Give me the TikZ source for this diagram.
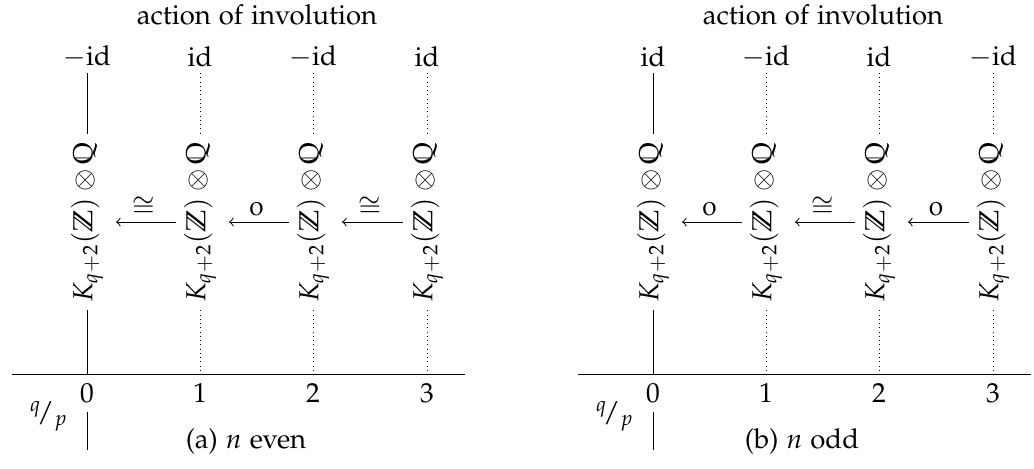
\documentclass[tikz,border=0pt]{standalone}
\usepackage[T1]{fontenc}
\usepackage[osf]{mathpazo}
\usepackage{amssymb}
\newcommand{\KZQ}{$K_{q+2}(\mathbb{Z})\otimes\mathbb{Q}$}
\tikzset{
  every node/.style={font=\fontsize{11}{13}\selectfont},
  ttl/.style={inner sep=1pt},
  hdr/.style={inner sep=1pt},
  col/.style={rotate=90,inner sep=3pt},
  tick/.style={inner sep=1pt},
  dots/.style={dash pattern=on 0.4pt off 1.3pt},
  map/.style={->,shorten <=0pt,shorten >=2pt},
  lab/.style={above,inner sep=2pt}
}
\newcommand{\Panel}[9]{%
\begin{scope}[shift={(#2,0)}]
  \node[ttl] (#1t) at (257,15) {action of involution};
  \node[hdr] (#1h0) at (87,57) {#3};
  \node[hdr] (#1h1) at (200,57) {#4};
  \node[hdr] (#1h2) at (313,57) {#5};
  \node[hdr] (#1h3) at (427,57) {#6};
  \node[col] (#1k0) at (87,222) {\KZQ};
  \node[col] (#1k1) at (200,222) {\KZQ};
  \node[col] (#1k2) at (313,222) {\KZQ};
  \node[col] (#1k3) at (427,222) {\KZQ};
  \node[tick] (#1n0) at (87,393) {$0$};
  \node[tick] (#1n1) at (200,393) {$1$};
  \node[tick] (#1n2) at (313,393) {$2$};
  \node[tick] (#1n3) at (427,393) {$3$};
  \node[inner sep=0pt] (#1qp) at (49,416) {${}^{q}\!/_{p}$};
  \coordinate (#1L) at (12,374);
  \coordinate (#1R) at (465,374);
  \coordinate (#1t0) at (87,73);
  \coordinate (#1t1) at (200,73);
  \coordinate (#1t2) at (313,73);
  \coordinate (#1t3) at (427,73);
  \coordinate (#1b0) at (87,374);
  \coordinate (#1b1) at (200,374);
  \coordinate (#1b2) at (313,374);
  \coordinate (#1b3) at (427,374);
  \coordinate (#1u0) at (87,412);
  \coordinate (#1e0) at (87,450);
  \draw (#1L) -- (#1R);
  \draw (#1t0) -- (#1k0.east);
  \draw (#1k0.west) -- (#1b0);
  \draw (#1u0) -- (#1e0);
  \draw[dots] (#1t1) -- (#1k1.east);
  \draw[dots] (#1k1.west) -- (#1b1);
  \draw[dots] (#1t2) -- (#1k2.east);
  \draw[dots] (#1k2.west) -- (#1b2);
  \draw[dots] (#1t3) -- (#1k3.east);
  \draw[dots] (#1k3.west) -- (#1b3);
  \draw[map] (#1k1) -- node[lab]{#7} (#1k0);
  \draw[map] (#1k2) -- node[lab]{#8} (#1k1);
  \draw[map] (#1k3) -- node[lab]{#9} (#1k2);
\end{scope}}
\begin{document}
\begin{tikzpicture}[x=0.4pt,y=-0.4pt]
\useasboundingbox (0,0) rectangle (1034,468);
\Panel{a}{0}{$-$id}{id}{$-$id}{id}{$\cong$}{0}{$\cong$}
\node (capa) at (246,442) {(a) $n$ even};
\Panel{b}{566}{id}{$-$id}{id}{$-$id}{0}{$\cong$}{0}
\node (capb) at (802,442) {(b) $n$ odd};
\end{tikzpicture}
\end{document}
